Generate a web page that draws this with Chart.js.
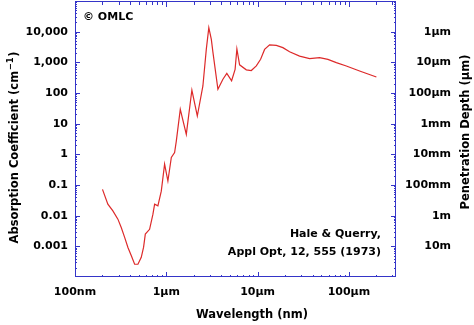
<!DOCTYPE html>
<html>
<head>
<meta charset="utf-8">
<script src="https://cdn.jsdelivr.net/npm/chart.js@4/dist/chart.umd.min.js"></script>
<style>
  html, body { margin: 0; padding: 0; background: #fff; }
  #wrap { width: 474px; height: 325px; }
</style>
</head>
<body>
<div id="wrap"><canvas id="c" width="474" height="325"></canvas></div>
<script>
// Wavelength (nm)
const wavelengths = [200, 229, 260, 295, 321, 349, 380, 414, 450, 489, 532, 564, 589, 656, 713, 745, 809, 881, 958, 1041, 1135, 1233, 1287, 1423, 1656, 1906, 2186, 2517, 2742, 2922, 3113, 3237, 3675, 4169, 4600, 5190, 5670, 5930, 6350, 7520, 8530, 9680, 10790, 11930, 13530, 16030, 18920, 22400, 28840, 37150, 47750, 58900, 72800, 93700, 131000, 200000];
// Absorption coefficient (cm^-1)
const absorption = [0.072, 0.0237, 0.0143, 0.0077, 0.0041, 0.0020, 0.00092, 0.00049, 0.00026, 0.00026, 0.00044, 0.00094, 0.0025, 0.0036, 0.011, 0.0237, 0.021, 0.063, 0.48, 0.135, 0.79, 1.15, 2.7, 29.5, 4.5, 125, 17.8, 170, 2640, 13500, 5600, 2200, 132, 282, 436, 251, 590, 2750, 830, 570, 540, 770, 1260, 2640, 3720, 3580, 3010, 2200, 1600, 1320, 1420, 1250, 977, 760, 520, 331];

const xTickValues = [100, 1000, 10000, 100000];
const xTickLabels = ['100nm', '1µm', '10µm', '100µm'];
const yTickValues = [10000, 1000, 100, 10, 1, 0.1, 0.01, 0.001];
const yTickLabels = ['10,000', '1,000', '100', '10', '1', '0.1', '0.01', '0.001'];
const depthTickLabels = ['1µm', '10µm', '100µm', '1mm', '10mm', '100mm', '1m', '10m'];

const AXIS = '#3535c8';
const FONT = 'DejaVu Sans';

const framePlugin = {
  id: 'frame',
  afterDraw(chart) {
    const { ctx, chartArea: a, scales } = chart;
    const x = scales.x, y = scales.y;
    ctx.save();
    ctx.strokeStyle = AXIS;
    ctx.lineWidth = 1;
    ctx.strokeRect(a.left + 0.5, a.top + 0.5, a.right - a.left - 1, a.bottom - a.top - 1);
    ctx.beginPath();
    for (let e = 2; e <= 5; e++) {
      for (let m = 1; m < 10; m++) {
        const v = m * Math.pow(10, e);
        if (v <= x.min || v > x.max) continue;
        const px = Math.round(x.getPixelForValue(v)) + 0.5;
        const lb = m === 1 ? 5 : 2;
        const lt = m === 1 ? 6 : 4;
        ctx.moveTo(px, a.bottom); ctx.lineTo(px, a.bottom - lb);
        ctx.moveTo(px, a.top); ctx.lineTo(px, a.top + lt);
      }
    }
    for (let e = -4; e <= 4; e++) {
      for (let m = 1; m < 10; m++) {
        const v = m * Math.pow(10, e);
        if (v <= y.min || v >= y.max) continue;
        const py = Math.round(y.getPixelForValue(v)) + 0.5;
        const l = m === 1 ? 5 : 2;
        ctx.moveTo(a.left, py); ctx.lineTo(a.left + l, py);
        ctx.moveTo(a.right, py); ctx.lineTo(a.right - l, py);
      }
    }
    ctx.stroke();

    ctx.fillStyle = '#000';
    ctx.font = 'bold 11px "' + FONT + '"';
    ctx.textBaseline = 'middle';
    ctx.textAlign = 'left';
    ctx.fillText('© OMLC', 83, 17);
    ctx.textAlign = 'right';
    ctx.fillText('Hale & Querry,', 381, 234);
    ctx.fillText('Appl Opt, 12, 555 (1973)', 381, 252);

    const big = 'bold 11.5px "' + FONT + '"';
    const small = 'bold 8.5px "' + FONT + '"';
    ctx.font = big;
    ctx.textAlign = 'center';
    ctx.fillText('Wavelength (nm)', 252, 315);

    // left title with superscript
    ctx.save();
    ctx.translate(15, 148);
    ctx.rotate(-Math.PI / 2);
    const p1 = 'Absorption Coefficient (cm', sup = '−1', p2 = ')';
    ctx.font = big; const w1 = ctx.measureText(p1).width, w3 = ctx.measureText(p2).width;
    ctx.font = small; const w2 = ctx.measureText(sup).width;
    let sx = -(w1 + w2 + w3) / 2;
    ctx.textAlign = 'left';
    ctx.font = big; ctx.fillText(p1, sx, 0); sx += w1;
    ctx.font = small; ctx.fillText(sup, sx + 0.5, -4); sx += w2 + 1;
    ctx.font = big; ctx.fillText(p2, sx, 0);
    ctx.restore();

    ctx.save();
    ctx.translate(466, 132);
    ctx.rotate(-Math.PI / 2);
    ctx.font = big;
    ctx.textAlign = 'center';
    ctx.fillText('Penetration Depth (µm)', 0, 0);
    ctx.restore();
    ctx.restore();
  }
};

const tickFont = { family: FONT, size: 11, weight: 'bold' };

new Chart(document.getElementById('c'), {
  type: 'line',
  data: {
    datasets: [{
      data: wavelengths.map((w, i) => ({ x: w, y: absorption[i] })),
      borderColor: '#dd2a2a',
      borderWidth: 1.2,
      pointRadius: 0,
      tension: 0,
      fill: false
    }]
  },
  options: {
    responsive: false,
    animation: false,
    devicePixelRatio: 1,
    layout: { padding: { left: 0, right: 23, top: 1, bottom: 0 } },
    plugins: { legend: { display: false }, tooltip: { enabled: false } },
    scales: {
      x: {
        type: 'logarithmic', position: 'bottom', min: 100, max: 328000,
        afterBuildTicks: s => { s.ticks = xTickValues.map(v => ({ value: v })); },
        afterFit: s => { s.height = 48; s.paddingLeft = 0; s.paddingRight = 0; },
        grid: { display: false, drawTicks: false }, border: { display: false },
        ticks: { padding: 9, autoSkip: false, maxRotation: 0, color: '#000', font: tickFont,
                 callback: (v, i) => xTickLabels[i] }
      },
      y: {
        type: 'logarithmic', position: 'left', min: 1e-4, max: 1e5,
        afterBuildTicks: s => { s.ticks = yTickValues.map(v => ({ value: v })); },
        afterFit: s => { s.width = 75; s.paddingTop = 0; s.paddingBottom = 0; },
        grid: { display: false, drawTicks: false }, border: { display: false },
        ticks: { padding: 7, autoSkip: false, color: '#000', font: tickFont,
                 callback: (v, i) => yTickLabels[i] }
      },
      y2: {
        type: 'logarithmic', position: 'right', min: 1e-4, max: 1e5,
        afterBuildTicks: s => { s.ticks = yTickValues.map(v => ({ value: v })); },
        afterFit: s => { s.width = 55; s.paddingTop = 0; s.paddingBottom = 0; },
        grid: { display: false, drawTicks: false }, border: { display: false },
        ticks: { padding: 7, autoSkip: false, crossAlign: 'far', color: '#000', font: tickFont,
                 callback: (v, i) => depthTickLabels[i] }
      }
    }
  },
  plugins: [framePlugin]
});
</script>
</body>
</html>
